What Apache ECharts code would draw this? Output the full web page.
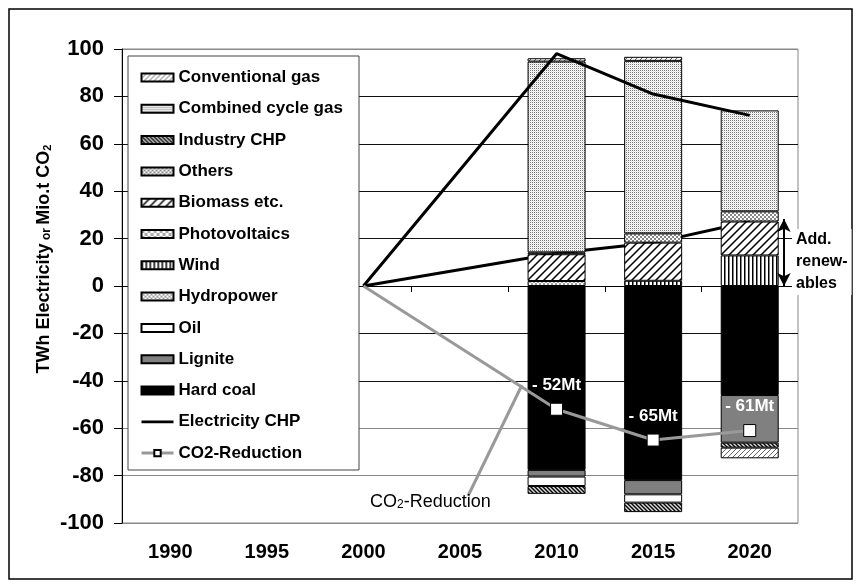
<!DOCTYPE html>
<html style="height: 100%">
<head>
    <meta charset="utf-8">
    <script type="text/javascript" src="https://cdn.jsdelivr.net/npm/echarts@6/dist/echarts.min.js"></script>
</head>
<body style="height: 100%; margin: 0; background: #fff">
<div id="container" style="width: 861px; height: 588px"></div>
<script type="text/javascript">
    var years = ['1990', '1995', '2000', '2005', '2010', '2015', '2020'];

    // TWh, stacked (positive up, negative down)
    var hardCoal   = [null, null, null, null, -77.6, -81.9, -46.0];
    var lignite    = [null, null, null, null, -2.8, -6.0, -20.1];
    var oil        = [null, null, null, null, -4.0, -3.5, null];
    var hydropower = [null, null, null, null, 2.1, null, null];
    var wind       = [null, null, null, null, null, 2.2, 12.9];
    var pv         = [null, null, null, null, null, null, null];
    var biomass    = [null, null, null, null, 11.3, 16.1, 14.3];
    var others     = [null, null, null, null, 0.8, 3.9, 4.3];
    var industryChp = [null, null, null, null, -3.3, -4.0, -2.1];
    var ccgt       = [null, null, null, null, 80.5, 72.8, 42.6];
    var convGas    = [null, null, null, null, 1.4, 1.7, -4.5];

    var electricityChp = [null, null, 0, null, 98, 81, 72];
    var addRenewables  = [null, null, 0, null, 13.8, 18.2, 27.2];
    var co2Reduction   = [null, null, 0, null, -52, -65, -61];

    var FONT = 'Liberation Sans, Arial, sans-serif';

    function makePattern(size, bg, draw) {
        var c = document.createElement('canvas');
        c.width = size;
        c.height = size;
        var g = c.getContext('2d');
        g.fillStyle = bg;
        g.fillRect(0, 0, size, size);
        draw(g, size);
        return {image: c, repeat: 'repeat'};
    }
    function fwd(color, w) {
        return function (g, s) {
            g.strokeStyle = color; g.lineWidth = w;
            g.beginPath();
            g.moveTo(0, s); g.lineTo(s, 0);
            g.moveTo(-2, 2); g.lineTo(2, -2);
            g.moveTo(s - 2, s + 2); g.lineTo(s + 2, s - 2);
            g.stroke();
        };
    }
    function back(color, w) {
        return function (g, s) {
            g.strokeStyle = color; g.lineWidth = w;
            g.beginPath();
            g.moveTo(0, 0); g.lineTo(s, s);
            g.moveTo(s - 2, -2); g.lineTo(s + 2, 2);
            g.moveTo(-2, s - 2); g.lineTo(2, s + 2);
            g.stroke();
        };
    }
    function checker(color, cell) {
        return function (g) {
            g.fillStyle = color;
            g.fillRect(0, 0, cell, cell);
            g.fillRect(cell, cell, cell, cell);
        };
    }

    var fills = {
        'Conventional gas': makePattern(5, '#fff', fwd('#666', 1)),
        'Combined cycle gas': makePattern(2, '#fff', function (g) {
            g.fillStyle = '#777'; g.fillRect(0, 0, 1, 1);
            g.fillStyle = '#e4e4e4'; g.fillRect(1, 1, 1, 1);
        }),
        'Industry CHP': makePattern(4, '#ddd', back('#000', 1.4)),
        'Others': makePattern(4, '#fff', checker('#888', 2)),
        'Biomass etc.': makePattern(8, '#fff', fwd('#000', 1.5)),
        'Photovoltaics': makePattern(6, '#fff', checker('#aaa', 3)),
        'Wind': makePattern(4, '#fff', function (g) {
            g.fillStyle = '#000'; g.fillRect(0, 0, 1.5, 4);
        }),
        'Hydropower': makePattern(4, '#fff', function (g, s) {
            fwd('#888', 0.8)(g, s); back('#888', 0.8)(g, s);
        }),
        'Oil': '#fff',
        'Lignite': '#808080',
        'Hard coal': '#000'
    };

    var barSeries = [
        ['Hard coal', hardCoal], ['Lignite', lignite], ['Oil', oil],
        ['Hydropower', hydropower], ['Wind', wind], ['Photovoltaics', pv],
        ['Biomass etc.', biomass], ['Others', others], ['Industry CHP', industryChp],
        ['Combined cycle gas', ccgt], ['Conventional gas', convGas]
    ];

    var series = barSeries.map(function (s) {
        return {
            name: s[0],
            type: 'bar',
            stack: 'twh',
            barWidth: 58,
            z: 2,
            data: s[1],
            itemStyle: {color: fills[s[0]], borderColor: '#000', borderWidth: 1}
        };
    });

    series.unshift({
        name: 'renewables',
        type: 'line',
        z: 1,
        data: addRenewables,
        connectNulls: true,
        symbol: 'none',
        lineStyle: {color: '#000', width: 3},
        markLine: {
            silent: true,
            symbol: ['arrow', 'arrow'],
            symbolSize: [10, 13],
            label: {show: false},
            lineStyle: {color: '#000', width: 2, type: 'solid'},
            data: [[{x: 784, y: 286}, {x: 784, y: 219}]]
        }
    });

    series.push({
        name: 'Electricity CHP',
        type: 'line',
        z: 4,
        data: electricityChp,
        connectNulls: true,
        symbol: 'none',
        lineStyle: {color: '#000', width: 3},
        itemStyle: {color: '#000'}
    });

    series.push({
        name: 'CO2-Reduction',
        type: 'line',
        z: 5,
        connectNulls: true,
        data: co2Reduction.map(function (v) {
            return v === 0 ? {value: v, symbol: 'none', label: {show: false}} : v;
        }),
        symbol: 'rect',
        symbolSize: 12,
        lineStyle: {color: '#999', width: 3},
        itemStyle: {color: '#fff', borderColor: '#000', borderWidth: 1},
        label: {
            show: true,
            position: 'top',
            distance: 9,
            color: '#fff',
            fontFamily: FONT,
            fontWeight: 'bold',
            fontSize: 17,
            formatter: function (p) { return '- ' + Math.abs(p.value) + 'Mt'; }
        }
    });

    var legendNames = ['Conventional gas', 'Combined cycle gas', 'Industry CHP', 'Others',
        'Biomass etc.', 'Photovoltaics', 'Wind', 'Hydropower', 'Oil', 'Lignite', 'Hard coal'];

    var gridColors = ['#888', '#888', '#888', '#111', '#111', '#111', '#111', '#111', '#111', '#111', '#888'];

    var dom = document.getElementById('container');
    var myChart = echarts.init(dom, null, {renderer: 'canvas'});

    var option = {
        backgroundColor: '#fff',
        animation: false,
        grid: {left: 122, right: 63, top: 49, bottom: 65, show: true, borderColor: '#888', borderWidth: 1},
        legend: {
            orient: 'vertical',
            left: 135,
            top: 64,
            z: 6,
            selectedMode: false,
            itemWidth: 32,
            itemHeight: 8,
            itemGap: 14.3,
            textStyle: {fontFamily: FONT, fontWeight: 'bold', fontSize: 17, lineHeight: 17, color: '#000'},
            data: legendNames.map(function (n) { return {name: n, icon: 'rect'}; })
                .concat([
                    {name: 'Electricity CHP', icon: 'path://M0,0L36,0L36,3L0,3Z'},
                    {name: 'CO2-Reduction', lineStyle: {width: 3, color: '#999'}}
                ])
        },
        xAxis: [{
            type: 'category',
            data: years,
            axisLine: {onZero: true, lineStyle: {color: '#000', width: 1}},
            axisTick: {show: true, length: 6, lineStyle: {color: '#000'}},
            axisLabel: {show: false},
            splitLine: {show: false}
        }, {
            type: 'category',
            data: years,
            position: 'bottom',
            axisLine: {show: false, onZero: false},
            axisTick: {show: false},
            axisLabel: {margin: 19, color: '#000', fontFamily: FONT, fontWeight: 'bold', fontSize: 20}
        }],
        yAxis: {
            type: 'value',
            min: -100,
            max: 100,
            interval: 20,
            axisLine: {show: true, lineStyle: {color: '#000'}},
            axisTick: {show: true, length: 8, lineStyle: {color: '#000'}},
            axisLabel: {margin: 18, color: '#000', fontFamily: FONT, fontWeight: 'bold', fontSize: 22},
            splitLine: {show: true, lineStyle: {color: gridColors, width: 1}}
        },
        graphic: [
            {
                type: 'rect', z: 3,
                shape: {x: 128, y: 56, width: 231, height: 414},
                style: {fill: '#fff', stroke: '#444', lineWidth: 1}
            },
            {
                type: 'rect', z: 10,
                shape: {x: 9, y: 9, width: 843, height: 570},
                style: {fill: null, stroke: '#000', lineWidth: 1.5}
            },
            {
                type: 'text', z: 10,
                x: 42, y: 259, rotation: Math.PI / 2,
                style: {
                    text: '{a|TWh Electricity} {b|or} {c|Mio.t CO}{d|2}',
                    align: 'center', verticalAlign: 'middle',
                    rich: {
                        a: {fontFamily: FONT, fontWeight: 'bold', fontSize: 18, color: '#000', lineHeight: 22, verticalAlign: 'bottom'},
                        b: {fontFamily: FONT, fontWeight: 'bold', fontSize: 12, color: '#000', lineHeight: 22, verticalAlign: 'bottom'},
                        c: {fontFamily: FONT, fontWeight: 'bold', fontSize: 18, color: '#999', lineHeight: 22, verticalAlign: 'bottom'},
                        d: {fontFamily: FONT, fontWeight: 'bold', fontSize: 11, color: '#999', lineHeight: 20, verticalAlign: 'bottom'}
                    }
                }
            },
            {
                type: 'line', z: 10,
                shape: {x1: 468, y1: 496, x2: 522, y2: 385},
                style: {stroke: '#999', lineWidth: 3}
            },
            {
                type: 'text', z: 10,
                x: 370, y: 500,
                style: {
                    text: '{a|CO}{b|2}{a|-Reduction}',
                    verticalAlign: 'middle',
                    rich: {
                        a: {fontFamily: FONT, fontSize: 18, color: '#999', lineHeight: 22, verticalAlign: 'bottom'},
                        b: {fontFamily: FONT, fontSize: 12, color: '#999', lineHeight: 18, verticalAlign: 'bottom'}
                    }
                }
            },
            {
                type: 'text', z: 10,
                x: 792, y: 229,
                style: {
                    text: 'Add.\nrenew-\nables',
                    fontFamily: FONT, fontWeight: 'bold', fontSize: 16, lineHeight: 22,
                    fill: '#000', backgroundColor: '#fff', padding: [0, 4, 0, 4]
                }
            }
        ],
        series: series
    };

    myChart.setOption(option);
</script>
</body>
</html>
